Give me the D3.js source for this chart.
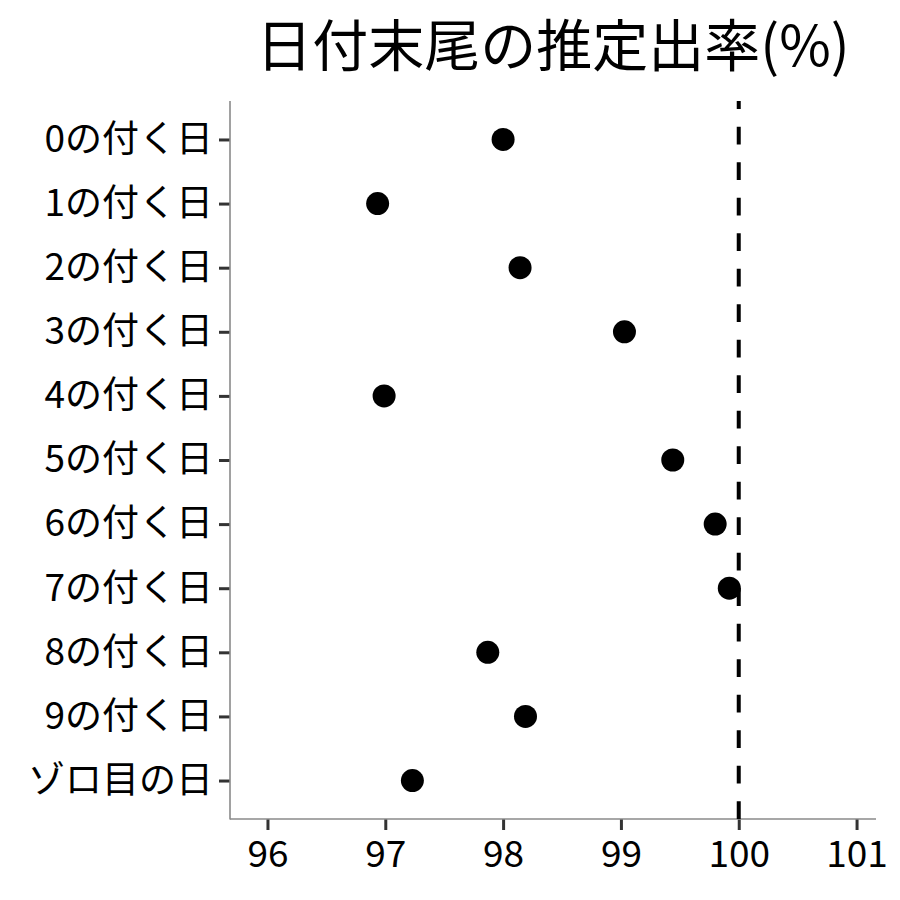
<!DOCTYPE html>
<html><head><meta charset="utf-8">
<script src="https://cdn.jsdelivr.net/npm/d3@7"></script>
<style>body{margin:0;background:#fff}svg{display:block}text{font-family:"Noto Sans CJK JP","Noto Sans",sans-serif}</style>
</head><body><svg id="c" width="900" height="900"></svg>
<script>
const categories = ["0の付く日","1の付く日","2の付く日","3の付く日","4の付く日","5の付く日","6の付く日","7の付く日","8の付く日","9の付く日","ゾロ目の日"];
const values = [98.00, 96.935, 98.144, 99.03, 96.99, 99.44, 99.80, 99.92, 97.87, 98.19, 97.23];
const xTicks = [96, 97, 98, 99, 100, 101];
const refValue = 100;
const title = "日付末尾の推定出率(%)";

const svg = d3.select("#c");
const L = 230, R = 876, T = 101, B = 819;
const x = d3.scaleLinear().domain([95.682, 101.165]).range([L, R]);
const y = d3.scalePoint().domain(categories).range([T, B]).padding(0.6);

// axes
const gx = svg.append("g").attr("transform", `translate(0,${B})`)
  .call(d3.axisBottom(x).tickValues(xTicks).tickSize(11).tickPadding(11).tickFormat(d3.format("d")));
gx.select(".domain").remove();
gx.selectAll(".tick line").attr("stroke", "#333").attr("stroke-width", 3);
gx.selectAll(".tick text").attr("fill", "#000").style("font-size", "37px");

const gy = svg.append("g").attr("transform", `translate(${L},0)`)
  .call(d3.axisLeft(y).tickSize(11).tickPadding(6));
gy.select(".domain").remove();
gy.selectAll(".tick line").attr("stroke", "#333").attr("stroke-width", 3);
gy.selectAll(".tick text").attr("fill", "#000").style("font-size", "37px");

// axis lines
svg.append("line").attr("x1", L).attr("x2", L).attr("y1", T).attr("y2", B + 0.5)
  .attr("stroke", "#8a8a8a").attr("stroke-width", 1.6);
svg.append("line").attr("x1", L).attr("x2", R).attr("y1", B).attr("y2", B)
  .attr("stroke", "#8a8a8a").attr("stroke-width", 1.6);

// reference line (dash pattern starts at bottom)
svg.append("line").attr("x1", x(refValue)).attr("x2", x(refValue)).attr("y1", B).attr("y2", T)
  .attr("stroke", "#000").attr("stroke-width", 4).attr("stroke-dasharray", "17.75,17.75");

// points
svg.append("g").selectAll("circle").data(values).join("circle")
  .attr("cx", d => x(d)).attr("cy", (d, i) => y(categories[i])).attr("r", 11.5).attr("fill", "#000");

// title
svg.append("text").attr("x", (L + R) / 2).attr("y", 66).attr("text-anchor", "middle")
  .style("font-size", "56px").attr("fill", "#000").text(title);
</script></body></html>
